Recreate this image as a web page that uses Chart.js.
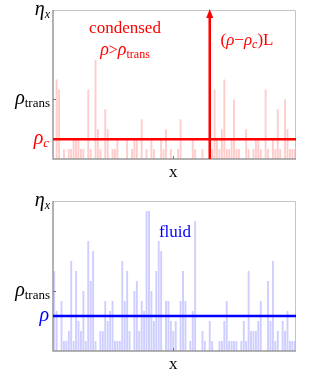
<!DOCTYPE html>
<html>
<head>
<meta charset="UTF-8">
<title>Condensed / fluid</title>
<script src="https://cdn.jsdelivr.net/npm/chart.js"></script>
<style>
  body { margin: 0; background: #fff; }
  .box { position: absolute; left: 0; width: 316px; height: 186px; }
</style>
</head>
<body>
<div class="box" style="top:0"><canvas id="top"></canvas></div>
<div class="box" style="top:186px"><canvas id="bottom"></canvas></div>

<script>
// site index (x) and occupation per site
const sites = Array.from({ length: 100 }, (_, i) => String(i));

const condensedValues = [
  0, 8, 7, 0, 1, 0, 1, 1, 2, 2, 2, 1, 1, 0, 7, 1, 0, 10, 3, 1,
  0, 5, 3, 0, 1, 1, 2, 0, 0, 0, 2, 0, 1, 2, 2, 0, 4, 0, 1, 0,
  2, 1, 0, 0, 2, 1, 3, 0, 1, 0, 0, 1, 4, 0, 0, 0, 0, 2, 1, 0,
  0, 1, 0, 0, 0, 1, 7, 2, 1, 3, 8, 1, 1, 2, 6, 1, 1, 0, 0, 3,
  1, 0, 1, 2, 2, 1, 0, 7, 1, 0, 2, 1, 5, 1, 0, 6, 3, 1, 1, 1
];
const fluidValues = [
  8, 4, 0, 5, 1, 1, 2, 9, 1, 8, 3, 2, 6, 1, 11, 7, 10, 1, 0, 2,
  2, 5, 3, 4, 5, 1, 1, 1, 9, 5, 8, 2, 0, 6, 7, 2, 5, 4, 14, 14,
  6, 3, 8, 11, 10, 0, 5, 5, 3, 2, 3, 0, 5, 8, 5, 0, 1, 4, 13, 0,
  0, 2, 1, 0, 3, 1, 0, 0, 1, 1, 3, 5, 1, 1, 1, 1, 0, 1, 3, 1,
  8, 2, 2, 2, 3, 5, 0, 0, 7, 3, 9, 1, 2, 0, 3, 2, 4, 1, 1, 1
];

// levels on the y axis
const yMax = 15;        // eta_x
const rhoTrans = 6;
const rhoC = 2;
const rhoFluid = 3.5;
const condensateSite = 64;
const xTickSite = 49;

const serif = '"Liberation Serif", "DejaVu Serif", serif';

// draws a row of text pieces, e.g. rho + subscript
function drawPieces(ctx, pieces, x, y, align, color) {
  ctx.save();
  ctx.fillStyle = color;
  ctx.textBaseline = 'alphabetic';
  ctx.textAlign = 'left';
  let w = 0;
  pieces.forEach(p => { ctx.font = p.font; w += ctx.measureText(p.t).width + (p.gap || 0); });
  let cx = align === 'right' ? x - w : align === 'center' ? x - w / 2 : x;
  pieces.forEach(p => {
    ctx.font = p.font;
    ctx.fillText(p.t, cx, y + (p.dy || 0));
    cx += ctx.measureText(p.t).width + (p.gap || 0);
  });
  ctx.restore();
}

const it = s => 'italic ' + s + 'px ' + serif;
const up = s => s + 'px ' + serif;

function etaLabel() {
  return [{ t: 'η', font: it(20) }, { t: 'x', font: it(12), dy: 3 }];
}
function transLabel() {
  return [{ t: 'ρ', font: it(20) }, { t: 'trans', font: up(13), dy: 3 }];
}

// frame, ticks, reference line and labels
const decor = {
  id: 'decor',
  afterDatasetsDraw(chart, args, opts) {
    const { ctx, chartArea: a, scales: { x, y } } = chart;
    ctx.save();
    // frame
    ctx.strokeStyle = '#c4c4c4';
    ctx.lineWidth = 1;
    ctx.beginPath();
    ctx.moveTo(a.left, a.top + 0.5); ctx.lineTo(a.right - 0.5, a.top + 0.5); ctx.lineTo(a.right - 0.5, a.bottom);
    ctx.stroke();
    ctx.strokeStyle = '#999';
    ctx.lineWidth = 1.5;
    ctx.beginPath();
    ctx.moveTo(a.left, a.top); ctx.lineTo(a.left, a.bottom); ctx.lineTo(a.right, a.bottom);
    ctx.stroke();
    // small ticks
    ctx.strokeStyle = '#777';
    ctx.lineWidth = 1;
    ctx.beginPath();
    const yt = Math.round(y.getPixelForValue(rhoTrans)) + 0.5;
    ctx.moveTo(a.left, yt); ctx.lineTo(a.left + 3, yt);
    const xt = Math.round(x.getPixelForValue(xTickSite)) + 0.5;
    ctx.moveTo(xt, a.bottom); ctx.lineTo(xt, a.bottom - 3);
    ctx.stroke();

    // horizontal reference line
    const yl = y.getPixelForValue(opts.level);
    ctx.strokeStyle = opts.color;
    ctx.lineWidth = 2.5;
    ctx.beginPath();
    ctx.moveTo(a.left, yl); ctx.lineTo(a.right, yl);
    ctx.stroke();

    // condensate arrow
    if (opts.arrow) {
      const xa = x.getPixelForValue(condensateSite);
      ctx.strokeStyle = opts.color;
      ctx.fillStyle = opts.color;
      ctx.lineWidth = 2.5;
      ctx.beginPath();
      ctx.moveTo(xa, a.bottom); ctx.lineTo(xa, a.top + 6);
      ctx.stroke();
      ctx.beginPath();
      ctx.moveTo(xa, a.top - 1);
      ctx.lineTo(xa - 3.5, a.top + 8);
      ctx.lineTo(xa + 3.5, a.top + 8);
      ctx.closePath();
      ctx.fill();
    }
    ctx.restore();

    // axis labels
    drawPieces(ctx, etaLabel(), a.left - 3, y.getPixelForValue(yMax) + 5, 'right', '#000');
    drawPieces(ctx, transLabel(), a.left - 3, y.getPixelForValue(rhoTrans) + 5, 'right', '#000');
    drawPieces(ctx, opts.levelLabel, a.left - 4, yl + 5, 'right', opts.color);
    drawPieces(ctx, [{ t: 'x', font: up(17) }], x.getPixelForValue(xTickSite), a.bottom + 18, 'center', '#000');
    opts.texts.forEach(tx => drawPieces(ctx, tx.pieces, tx.x, tx.y, 'center', opts.color));
  }
};

function makeChart(id, values, barColor, pad, decorOpts) {
  return new Chart(document.getElementById(id), {
    type: 'bar',
    data: {
      labels: sites,
      datasets: [{
        data: values,
        backgroundColor: barColor,
        borderWidth: 0,
        barPercentage: 0.78,
        categoryPercentage: 1
      }]
    },
    options: {
      responsive: true,
      maintainAspectRatio: false,
      animation: false,
      layout: { padding: pad },
      plugins: { legend: { display: false }, tooltip: { enabled: false }, decor: decorOpts },
      scales: {
        x: { display: false },
        y: { display: false, min: 0, max: yMax }
      }
    },
    plugins: [decor]
  });
}

makeChart('top', condensedValues, 'rgb(255, 204, 204)',
  { left: 53, right: 20, top: 10, bottom: 27 },
  {
    level: rhoC, color: '#ff0000', arrow: true,
    levelLabel: [{ t: 'ρ', font: it(20) }, { t: 'c', font: it(13), dy: 3 }],
    texts: [
      { x: 125, y: 33, pieces: [{ t: 'condensed', font: up(17) }] },
      { x: 125, y: 55, pieces: [{ t: 'ρ', font: it(18) }, { t: '>', font: up(16) }, { t: 'ρ', font: it(18) }, { t: 'trans', font: up(12), dy: 3 }] },
      { x: 247, y: 45, pieces: [{ t: '(', font: up(17) }, { t: 'ρ', font: it(17) }, { t: '−', font: up(17) }, { t: 'ρ', font: it(17) }, { t: 'c', font: it(12), dy: 3 }, { t: ')L', font: up(17) }] }
    ]
  });

makeChart('bottom', fluidValues, 'rgb(206, 206, 255)',
  { left: 53, right: 20, top: 15, bottom: 21 },
  {
    level: rhoFluid, color: '#0000ff', arrow: false,
    levelLabel: [{ t: 'ρ', font: it(20) }],
    texts: [
      { x: 175, y: 51, pieces: [{ t: 'fluid', font: up(17) }] }
    ]
  });
</script>
</body>
</html>
